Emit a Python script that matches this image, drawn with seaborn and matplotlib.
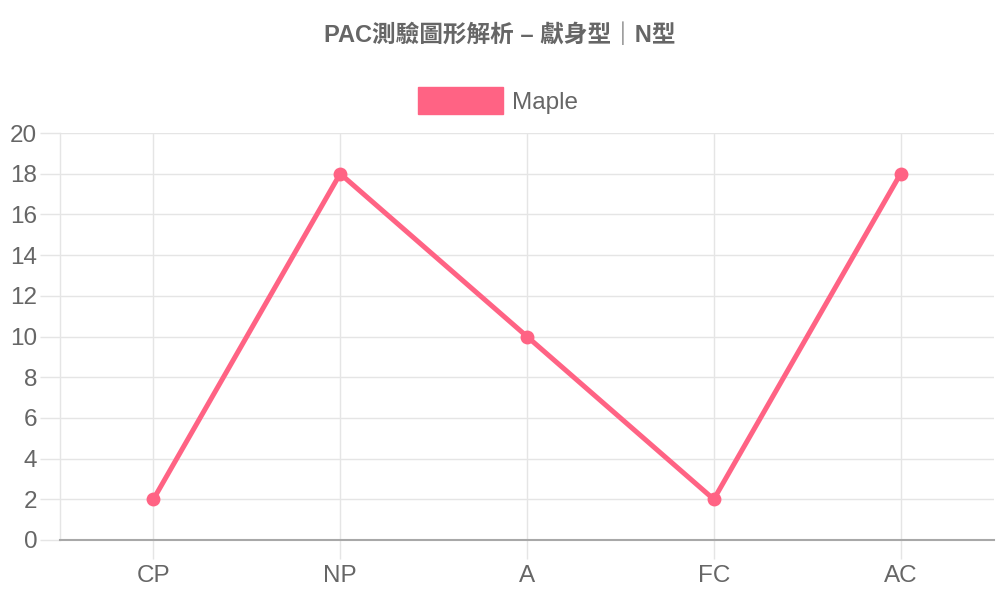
import matplotlib
matplotlib.use("Agg")
import matplotlib.pyplot as plt
import seaborn as sns
import pandas as pd
from matplotlib.patches import Patch

categories = ["CP", "NP", "A", "FC", "AC"]
values = [2, 18, 10, 2, 18]
series_name = "Maple"
title = "PAC測驗圖形解析 – 獻身型｜N型"
yticks = [0, 2, 4, 6, 8, 10, 12, 14, 16, 18, 20]

sns.set_theme(style="white")
plt.rcParams['font.family'] = ['Liberation Sans', 'Noto Sans CJK TC', 'DejaVu Sans']

color = "#ff6384"
grid_c = "#e5e5e5"
text_c = "#666666"

df = pd.DataFrame({"cat": categories, "val": values, "idx": range(len(categories))})

fig = plt.figure(figsize=(10, 6), dpi=100)
ax = fig.add_axes([0.06, 0.1, 0.934, 0.6783])

sns.lineplot(data=df, x="idx", y="val", sort=False, ax=ax, color=color,
             linewidth=3.6, marker="o", markersize=10, markeredgewidth=0,
             markerfacecolor=color, legend=False)

ax.set_xlim(-0.5, len(categories) - 0.5)
ax.set_ylim(0, 20)
ax.set_xticks(range(len(categories)))
ax.set_xticklabels(categories)
ax.set_yticks(yticks)
ax.set_xlabel("")
ax.set_ylabel("")

ax.grid(True, color=grid_c, linewidth=1.0)
ax.set_axisbelow(True)
for s in ["top", "right"]:
    ax.spines[s].set_visible(False)
ax.spines["left"].set_color(grid_c)
ax.spines["left"].set_linewidth(1.0)
ax.spines["bottom"].set_color("#a8a8a8")
ax.spines["bottom"].set_linewidth(1.5)

ax.tick_params(axis="y", length=14.4, width=1.0, color=grid_c, pad=2,
               labelsize=17.5, labelcolor=text_c, left=True)
ax.tick_params(axis="x", length=14, width=1.0, color=grid_c, pad=4,
               labelsize=17.5, labelcolor=text_c, bottom=True)

fig.text(0.5, 0.942, title, ha="center", va="center", fontsize=17,
         fontweight="bold", color=text_c)

handle = Patch(facecolor=color, edgecolor=color)
fig.legend([handle], [series_name], loc="center", bbox_to_anchor=(0.498, 0.832),
           frameon=False, fontsize=17.5, labelcolor=text_c,
           handlelength=3.5, handleheight=1.35, handletextpad=0.4)

fig.savefig("out.png", dpi=100)
